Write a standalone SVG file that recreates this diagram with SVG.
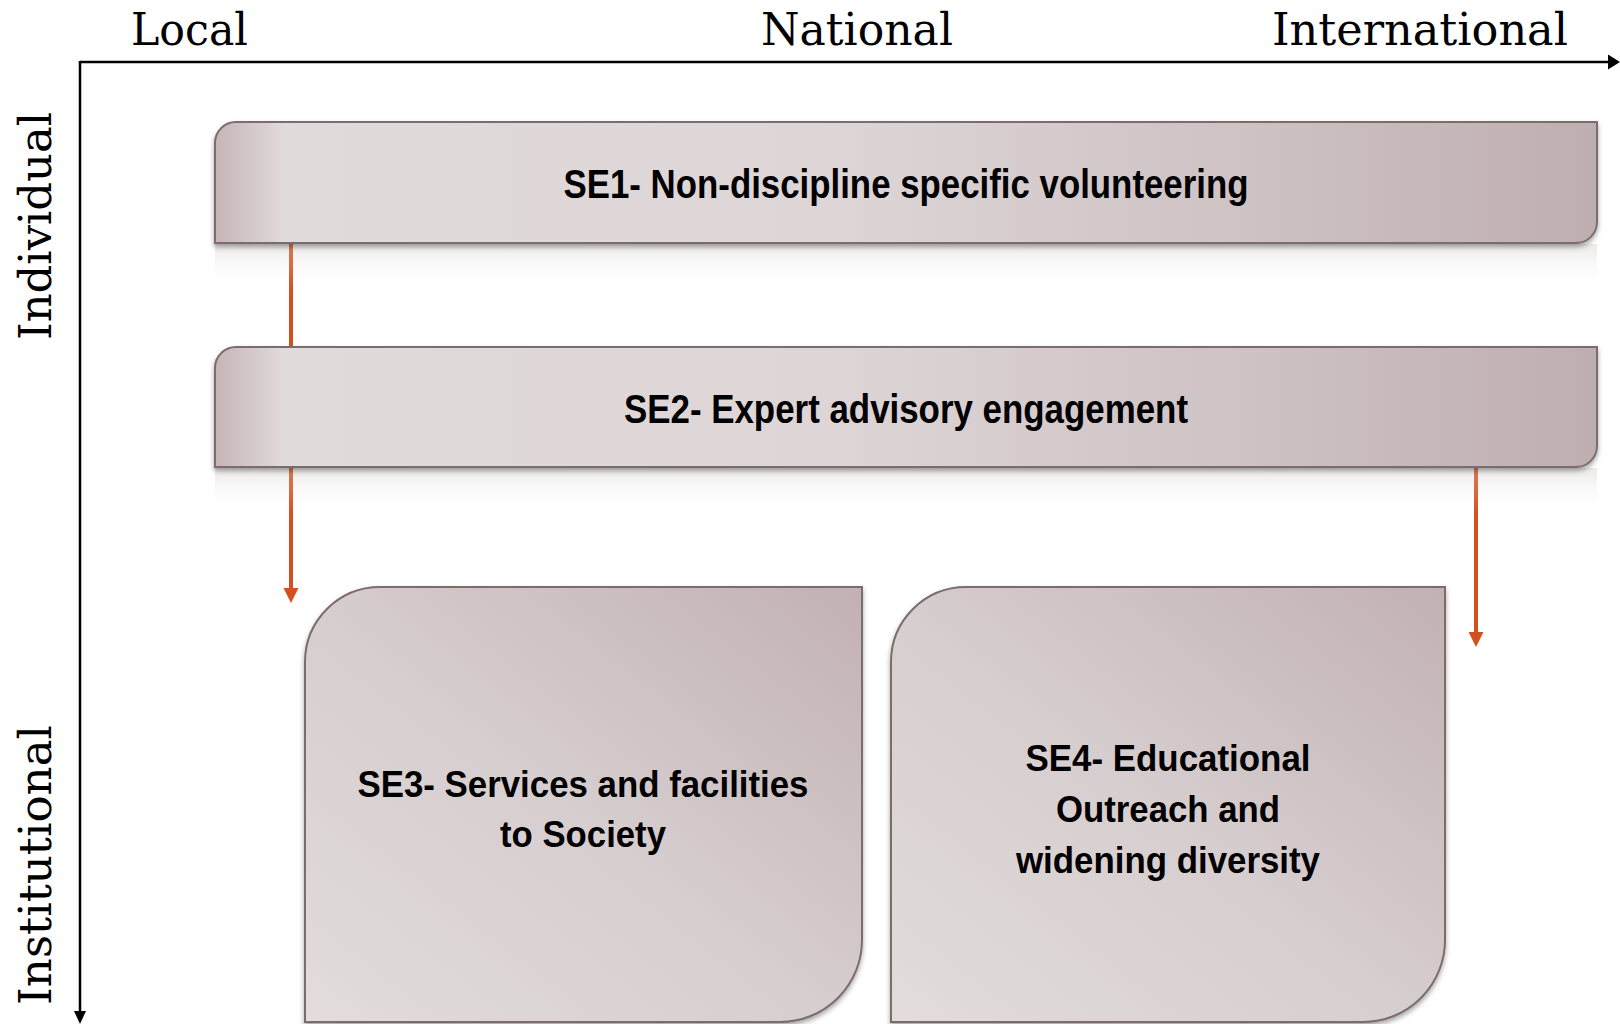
<svg xmlns="http://www.w3.org/2000/svg" width="1620" height="1024" viewBox="0 0 1620 1024">
<style>
.axis{stroke:#000;stroke-width:2.5;fill:none}
.axlbl{font-family:"DejaVu Serif","Liberation Serif",serif;font-size:45px;fill:#000}
.box{stroke:#7b6c6e;stroke-width:2}
.lbl{font-family:"Liberation Sans",Arial,sans-serif;font-weight:bold;fill:#000;text-anchor:middle}
.conn{stroke:#d4501e;stroke-width:4;fill:none}
.head{fill:#d4501e}
</style>
<defs>
<linearGradient id="barG" x1="0" y1="0" x2="1" y2="0">
<stop offset="0" stop-color="#c6b5b7"/>
<stop offset="0.05" stop-color="#e1dadb"/>
<stop offset="0.45" stop-color="#ddd5d6"/>
<stop offset="0.75" stop-color="#cec2c3"/>
<stop offset="1" stop-color="#bfaeaf"/>
</linearGradient>
<linearGradient id="sqG" x1="1" y1="0" x2="0" y2="1">
<stop offset="0" stop-color="#c2b1b2"/>
<stop offset="0.5" stop-color="#d6cdce"/>
<stop offset="1" stop-color="#e2dcdc"/>
</linearGradient>
<linearGradient id="refl" x1="0" y1="0" x2="0" y2="1">
<stop offset="0" stop-color="#c9bdbe" stop-opacity="0.35"/>
<stop offset="1" stop-color="#ffffff" stop-opacity="0"/>
</linearGradient>
<filter id="sh" x="-5%" y="-10%" width="110%" height="130%">
<feDropShadow dx="0" dy="3" stdDeviation="2.5" flood-color="#000" flood-opacity="0.35"/>
</filter>
</defs>

<g id="axes">
<line class="axis" x1="80" y1="62" x2="1610" y2="62"/>
<polygon points="1608,54.5 1620,62 1608,69.5" fill="#000"/>
<line class="axis" x1="80" y1="61" x2="80" y2="1013"/>
<polygon points="74,1011 86,1011 80,1024" fill="#000"/>
<text class="axlbl" x="131" y="45" textLength="117" lengthAdjust="spacingAndGlyphs">Local</text>
<text class="axlbl" x="761" y="45" textLength="192" lengthAdjust="spacingAndGlyphs">National</text>
<text class="axlbl" x="1272" y="45" textLength="296" lengthAdjust="spacingAndGlyphs">International</text>
<text class="axlbl" transform="translate(51,340) rotate(-90)" textLength="228" lengthAdjust="spacingAndGlyphs">Individual</text>
<text class="axlbl" transform="translate(51,1005) rotate(-90)" textLength="280" lengthAdjust="spacingAndGlyphs">Institutional</text>
</g>

<g id="connectors">
<line class="conn" x1="291" y1="243" x2="291" y2="347"/>
<line class="conn" x1="291" y1="467" x2="291" y2="590"/>
<polygon class="head" points="283.5,588 298.5,588 291,603"/>
<line class="conn" x1="1476" y1="467" x2="1476" y2="634"/>
<polygon class="head" points="1468.5,632 1483.5,632 1476,647"/>
</g>

<g id="SE1">
<path d="M215,244 L1597,244 L1597,290 L215,290 Z" fill="url(#refl)"/>
<path class="box" filter="url(#sh)" fill="url(#barG)" d="M215,243 L215,143 A21,21 0 0 1 236,122 L1597,122 L1597,222 A21,21 0 0 1 1576,243 Z"/>
<text class="lbl" x="906" y="198" font-size="40" textLength="685" lengthAdjust="spacingAndGlyphs">SE1- Non-discipline specific volunteering</text>
</g>

<g id="SE2">
<path d="M215,468 L1597,468 L1597,514 L215,514 Z" fill="url(#refl)"/>
<path class="box" filter="url(#sh)" fill="url(#barG)" d="M215,467 L215,368 A21,21 0 0 1 236,347 L1597,347 L1597,446 A21,21 0 0 1 1576,467 Z"/>
<text class="lbl" x="906" y="423" font-size="40" textLength="564" lengthAdjust="spacingAndGlyphs">SE2- Expert advisory engagement</text>
</g>

<g id="SE3">
<path class="box" filter="url(#sh)" fill="url(#sqG)" d="M305,1022 L305,662 A75,75 0 0 1 380,587 L862,587 L862,940 A82,82 0 0 1 780,1022 Z"/>
<text class="lbl" x="583" y="797" font-size="37" textLength="451" lengthAdjust="spacingAndGlyphs">SE3- Services and facilities</text>
<text class="lbl" x="583" y="847" font-size="37" textLength="166" lengthAdjust="spacingAndGlyphs">to Society</text>
</g>

<g id="SE4">
<path class="box" filter="url(#sh)" fill="url(#sqG)" d="M891,1022 L891,662 A75,75 0 0 1 966,587 L1445,587 L1445,940 A82,82 0 0 1 1363,1022 Z"/>
<text class="lbl" x="1168" y="771" font-size="37" textLength="285" lengthAdjust="spacingAndGlyphs">SE4- Educational</text>
<text class="lbl" x="1168" y="822" font-size="37" textLength="224" lengthAdjust="spacingAndGlyphs">Outreach and</text>
<text class="lbl" x="1168" y="873" font-size="37" textLength="304" lengthAdjust="spacingAndGlyphs">widening diversity</text>
</g>
</svg>
